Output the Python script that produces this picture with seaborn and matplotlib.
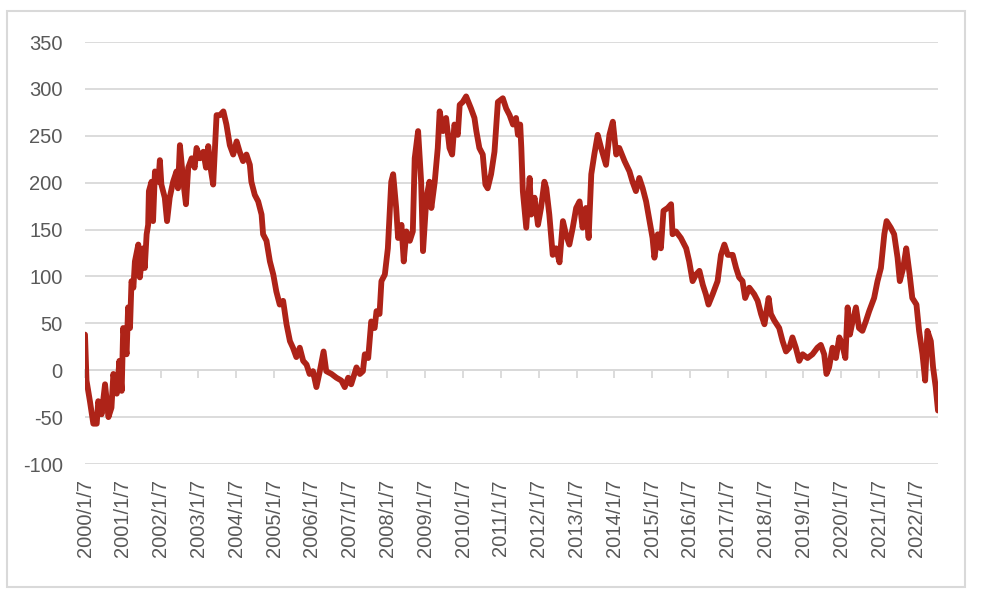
import matplotlib

matplotlib.use("Agg")
import matplotlib.pyplot as plt
from matplotlib.patches import Rectangle
import pandas as pd
import seaborn as sns

# 时间用小数年表示，2000.0 对应 2000/1/7
t_year = [
    2000.00, 2000.04, 2000.13, 2000.22, 2000.31, 2000.35, 2000.44, 2000.53, 2000.62, 2000.70,
    2000.75, 2000.84, 2000.91, 2000.97, 2001.01, 2001.10, 2001.14, 2001.19, 2001.23, 2001.28,
    2001.32, 2001.41, 2001.45, 2001.54, 2001.58, 2001.63, 2001.67, 2001.69, 2001.76, 2001.80,
    2001.85, 2001.94, 2001.98, 2002.02, 2002.11, 2002.17, 2002.24, 2002.33, 2002.42, 2002.46,
    2002.51, 2002.55, 2002.60, 2002.67, 2002.73, 2002.82, 2002.90, 2002.95, 2003.04, 2003.13,
    2003.20, 2003.26, 2003.32, 2003.39, 2003.43, 2003.48,
    2003.57, 2003.66, 2003.74, 2003.83, 2003.92, 2004.01, 2004.09, 2004.18, 2004.27, 2004.36,
    2004.40, 2004.49, 2004.58, 2004.67, 2004.71, 2004.80, 2004.89, 2004.98, 2005.06, 2005.15,
    2005.24, 2005.33, 2005.42, 2005.50, 2005.59, 2005.68, 2005.77, 2005.86, 2005.94, 2006.03,
    2006.12, 2006.21, 2006.31, 2006.38, 2006.52, 2006.65, 2006.78, 2006.87, 2006.96, 2007.04,
    2007.18,
    2007.27, 2007.35, 2007.40, 2007.49, 2007.57, 2007.66, 2007.71, 2007.79, 2007.84, 2007.93,
    2008.01, 2008.10, 2008.15, 2008.23, 2008.28, 2008.37, 2008.43, 2008.50, 2008.59, 2008.67,
    2008.72, 2008.81, 2008.89, 2008.94, 2009.03, 2009.11, 2009.16, 2009.25, 2009.33, 2009.38,
    2009.47, 2009.55, 2009.64, 2009.71, 2009.77, 2009.86, 2009.91, 2009.99, 2010.08, 2010.21,
    2010.30, 2010.35, 2010.43, 2010.52, 2010.59, 2010.65, 2010.74, 2010.83, 2010.92,
    2011.05, 2011.14, 2011.23, 2011.32, 2011.40, 2011.45, 2011.51, 2011.54, 2011.58, 2011.67,
    2011.76, 2011.80, 2011.89, 2011.98, 2012.06, 2012.15, 2012.20, 2012.28, 2012.37, 2012.46,
    2012.55, 2012.64, 2012.72, 2012.81, 2012.90, 2012.99, 2013.08, 2013.16, 2013.25, 2013.32,
    2013.39, 2013.47, 2013.56, 2013.65, 2013.78, 2013.87, 2013.96, 2014.05, 2014.13, 2014.27,
    2014.40, 2014.48, 2014.57,
    2014.66, 2014.75, 2014.84, 2014.93, 2015.01, 2015.06, 2015.15, 2015.23, 2015.30, 2015.41,
    2015.50, 2015.54, 2015.63, 2015.76, 2015.90, 2015.98, 2016.07, 2016.16, 2016.25, 2016.34,
    2016.42, 2016.49, 2016.60, 2016.73, 2016.82, 2016.91, 2017.00, 2017.13, 2017.22, 2017.30,
    2017.39, 2017.46, 2017.57, 2017.70, 2017.79, 2017.88, 2017.97, 2018.08, 2018.14, 2018.23,
    2018.36, 2018.45, 2018.54, 2018.63, 2018.71, 2018.80, 2018.89, 2018.98, 2019.11, 2019.24,
    2019.37, 2019.46, 2019.55, 2019.61, 2019.68, 2019.77, 2019.86, 2019.95, 2020.03, 2020.11,
    2020.17, 2020.23, 2020.30, 2020.39, 2020.47, 2020.56, 2020.65, 2020.74, 2020.87, 2020.96,
    2021.05, 2021.14, 2021.20, 2021.31, 2021.40, 2021.49, 2021.55, 2021.64, 2021.72, 2021.81,
    2021.88, 2021.99, 2022.06, 2022.15, 2022.22, 2022.28, 2022.37, 2022.43, 2022.50, 2022.56,
]

spread = [
    38, -11, -33, -57, -57, -33, -47, -15, -50, -40,
    -4, -25, 10, -22, 45, 17, 67, 45, 95, 88,
    116, 134, 99, 130, 109, 145, 155, 191, 201, 159,
    212, 201, 224, 198, 184, 159, 184, 201, 212, 194,
    240, 223, 201, 177, 216, 226, 216, 237, 226, 233,
    216, 239, 216, 198, 230, 272,
    272, 276, 262, 240, 230, 244, 233, 223, 230, 219,
    201, 187, 180, 166, 145, 138, 116, 102, 84, 70,
    74, 49, 31, 24, 14, 24, 10, 6, -4, -1,
    -18, -1, 20, -1, -4, -8, -11, -18, -8, -15,
    3,
    -4, -1, 17, 13, 52, 45, 63, 60, 95, 102,
    130, 201, 209, 173, 141, 155, 116, 148, 138, 148,
    226, 255, 201, 127, 184, 201, 173, 201, 237, 276,
    255, 269, 237, 230, 262, 251, 283, 286, 292, 279,
    269, 255, 237, 230, 198, 194, 209, 233, 286,
    290, 279, 272, 262, 269, 251, 262, 237, 191, 152,
    205, 166, 184, 155, 173, 201, 194, 166, 123, 130,
    115, 159, 145, 134, 152, 173, 180, 152, 173, 141,
    209, 230, 251, 237, 219, 251, 265, 230, 237, 223,
    212, 201, 191,
    205, 194, 180, 159, 141, 120, 145, 130, 170, 173,
    177, 145, 148, 141, 130, 116, 95, 102, 106, 91,
    81, 70, 81, 95, 123, 134, 123, 123, 109, 99,
    95, 77, 88, 81, 74, 60, 49, 77, 60, 53,
    45, 31, 20, 24, 35, 24, 10, 17, 13, 17,
    24, 27, 17, -4, 3, 24, 13, 35, 27, 13,
    67, 38, 52, 67, 45, 42, 52, 63, 77, 95,
    109, 145, 159, 152, 145, 120, 95, 109, 130, 102,
    77, 70, 42, 17, -11, 42, 31, 3, -18, -43,
]

year_ticks = list(range(2000, 2023))
year_labels = [f"{y}/1/7" for y in year_ticks]
y_ticks = [-100, -50, 0, 50, 100, 150, 200, 250, 300, 350]

assert len(t_year) == len(spread)

sns.set_style("white")
plt.rcParams["font.family"] = ["Liberation Sans", "DejaVu Sans"]
plt.rcParams["axes.unicode_minus"] = False

GRID = "#d9d9d9"
TEXT = "#595959"

fig = plt.figure(figsize=(9.82, 6.0), dpi=100)
ax = fig.add_axes([85 / 982, 136 / 600, 853 / 982, 422 / 600])

df = pd.DataFrame({"t": t_year, "v": spread})
sns.lineplot(data=df, x="t", y="v", ax=ax, color="#ae2318", linewidth=4.2,
             estimator=None, sort=False, solid_joinstyle="round")

ax.set_xlim(df["t"].min(), df["t"].max())
ax.set_ylim(-100, 350)
ax.set_yticks(y_ticks)
ax.yaxis.grid(True, color=GRID, linewidth=1.3)
ax.xaxis.grid(False)
ax.set_axisbelow(True)
for s in ax.spines.values():
    s.set_visible(False)

ax.set_xticks(year_ticks)
ax.set_xticklabels(year_labels, rotation=90)
ax.tick_params(axis="x", length=0, pad=11, labelsize=14.5, labelcolor=TEXT)
ax.tick_params(axis="y", length=0, pad=16, labelsize=14.5, labelcolor=TEXT)
ax.set_xlabel("")
ax.set_ylabel("")

# 0 轴上的刻度线
sec = ax.secondary_xaxis(100 / 450)
sec.set_alignment("bottom")
sec.set_xticks(year_ticks)
sec.tick_params(axis="x", length=6, width=1.3, color=GRID,
                labelbottom=False, labeltop=False)
for s in sec.spines.values():
    s.set_color(GRID)
    s.set_linewidth(1.3)

fig.patches.append(Rectangle((7 / 982, 13 / 600), 958 / 982, 576 / 600,
                             transform=fig.transFigure, fill=False,
                             edgecolor=GRID, linewidth=1.5))

fig.savefig("out.png", dpi=100)
plt.close(fig)
